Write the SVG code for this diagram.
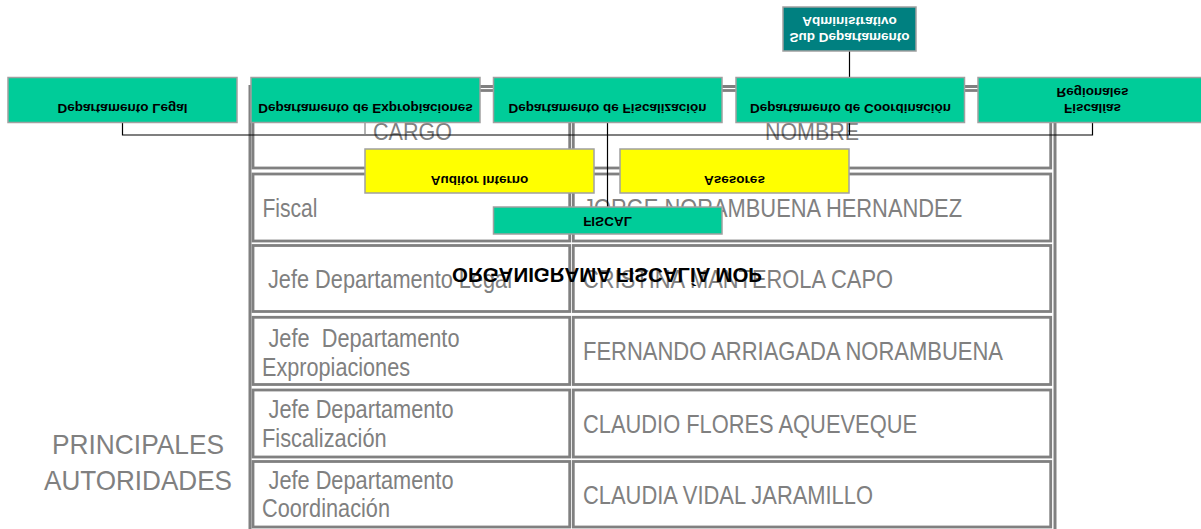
<svg xmlns="http://www.w3.org/2000/svg" width="1201" height="529" viewBox="0 0 1201 529">
<style>
.cell{fill:none;stroke:#808080;stroke-width:2.8}
.outer{fill:none;stroke:#808080;stroke-width:3}
.t{font-family:"Liberation Sans",Arial,sans-serif;font-size:26.5px;fill:#808080;white-space:pre}
.h{font-family:"Liberation Sans",Arial,sans-serif;font-size:24px;fill:#808080}
.side{font-family:"Liberation Sans",Arial,sans-serif;font-size:28px;fill:#808080;text-anchor:middle}
.g{fill:#00CC99;stroke:#A0A0A0;stroke-width:1.5}
.y{fill:#FFFF00;stroke:#A0A0A0;stroke-width:1.5}
.d{fill:#008080;stroke:#A0A0A0;stroke-width:1.5}
.bt{font-family:"Liberation Sans",Arial,sans-serif;font-size:13.5px;font-weight:bold;fill:#000;text-anchor:middle}
.wt{font-family:"Liberation Sans",Arial,sans-serif;font-size:13.5px;font-weight:bold;fill:#fff;text-anchor:middle}
.title{font-family:"Liberation Sans",Arial,sans-serif;font-size:20.5px;font-weight:bold;fill:#000}
.c{fill:none;stroke:#000;stroke-width:1.2}
</style>

<g id="table">
  <rect class="outer" x="250" y="86.5" width="805" height="446"/>
  <rect class="cell" x="253" y="90.5" width="316.7" height="77.5"/>
  <rect class="cell" x="573.3" y="90.5" width="477.4" height="77.5"/>
  <rect class="cell" x="253" y="174" width="316.7" height="67"/>
  <rect class="cell" x="573.3" y="174" width="477.4" height="67"/>
  <rect class="cell" x="253" y="245.5" width="316.7" height="66"/>
  <rect class="cell" x="573.3" y="245.5" width="477.4" height="66"/>
  <rect class="cell" x="253" y="317.3" width="316.7" height="67.2"/>
  <rect class="cell" x="573.3" y="317.3" width="477.4" height="67.2"/>
  <rect class="cell" x="253" y="390" width="316.7" height="67"/>
  <rect class="cell" x="573.3" y="390" width="477.4" height="67"/>
  <rect class="cell" x="253" y="461.5" width="316.7" height="65.5"/>
  <rect class="cell" x="573.3" y="461.5" width="477.4" height="65.5"/>

  <text class="h" x="373" y="140" textLength="79" lengthAdjust="spacingAndGlyphs">CARGO</text>
  <text class="h" x="765" y="140" textLength="94" lengthAdjust="spacingAndGlyphs">NOMBRE</text>

  <text class="t" x="262.5" y="217" textLength="55" lengthAdjust="spacingAndGlyphs">Fiscal</text>
  <text class="t" x="583" y="217" textLength="379" lengthAdjust="spacingAndGlyphs">JORGE NORAMBUENA HERNANDEZ</text>

  <text class="t" x="268" y="287.5" textLength="244" lengthAdjust="spacingAndGlyphs">Jefe Departamento Legal</text>
  <text class="t" x="583" y="287.5" textLength="310" lengthAdjust="spacingAndGlyphs">CRISTINA MANTEROLA CAPO</text>

  <text class="t" x="268.5" y="347" textLength="191" lengthAdjust="spacingAndGlyphs">Jefe  Departamento</text>
  <text class="t" x="262" y="376" textLength="148" lengthAdjust="spacingAndGlyphs">Expropiaciones</text>
  <text class="t" x="583" y="360" textLength="420" lengthAdjust="spacingAndGlyphs">FERNANDO ARRIAGADA NORAMBUENA</text>

  <text class="t" x="268.5" y="418" textLength="185" lengthAdjust="spacingAndGlyphs">Jefe Departamento</text>
  <text class="t" x="262" y="447" textLength="124.6" lengthAdjust="spacingAndGlyphs">Fiscalización</text>
  <text class="t" x="583" y="433" textLength="334" lengthAdjust="spacingAndGlyphs">CLAUDIO FLORES AQUEVEQUE</text>

  <text class="t" x="268.5" y="489" textLength="185" lengthAdjust="spacingAndGlyphs">Jefe Departamento</text>
  <text class="t" x="262" y="517" textLength="128" lengthAdjust="spacingAndGlyphs">Coordinación</text>
  <text class="t" x="583" y="503.5" textLength="290" lengthAdjust="spacingAndGlyphs">CLAUDIA VIDAL JARAMILLO</text>
</g>

<g id="side-label">
  <text class="side" x="138" y="453.5" textLength="172" lengthAdjust="spacingAndGlyphs">PRINCIPALES</text>
  <text class="side" x="138" y="490" textLength="188" lengthAdjust="spacingAndGlyphs">AUTORIDADES</text>
</g>

<g id="connectors">
  <line class="c" x1="849.5" y1="51" x2="849.5" y2="77"/>
  <polyline class="c" points="122.5,122 122.5,135 1092.5,135 1092.5,122"/>
  <line x1="365" y1="122" x2="365" y2="135" stroke="#808080" stroke-width="1.2"/>
  <line class="c" x1="849.5" y1="122" x2="849.5" y2="135"/>
  <line class="c" x1="607.5" y1="122" x2="607.5" y2="207"/>
</g>

<g id="title">
  <text class="title" transform="matrix(1 0 0 -1 0 268)" x="452" y="0" textLength="310" lengthAdjust="spacingAndGlyphs">ORGANIGRAMA FISCALÍA MOP</text>
</g>

<g id="sub-departamento-administrativo">
  <rect class="d" x="783" y="7" width="133" height="44"/>
  <text class="wt" transform="matrix(1 0 0 -1 0 33)" x="849.5" y="0">Sub Departamento</text>
  <text class="wt" transform="matrix(1 0 0 -1 0 17)" x="849.5" y="0">Administrativo</text>
</g>

<g id="departamento-legal">
  <rect class="g" x="8" y="77.5" width="229" height="45"/>
  <text class="bt" transform="matrix(1 0 0 -1 0 103.5)" x="122.5" y="0">Departamento Legal</text>
</g>

<g id="departamento-expropiaciones">
  <rect class="g" x="251" y="77.5" width="229" height="45"/>
  <text class="bt" transform="matrix(1 0 0 -1 0 103.5)" x="365.5" y="0">Departamento de Expropiaciones</text>
</g>

<g id="departamento-fiscalizacion">
  <rect class="g" x="493.5" y="77.5" width="228.5" height="45"/>
  <text class="bt" transform="matrix(1 0 0 -1 0 103.5)" x="607.5" y="0">Departamento de Fiscalización</text>
</g>

<g id="departamento-coordinacion">
  <rect class="g" x="736" y="77.5" width="228.5" height="45"/>
  <text class="bt" transform="matrix(1 0 0 -1 0 103.5)" x="850.5" y="0">Departamento de Coordinación</text>
</g>

<g id="fiscalias-regionales">
  <rect class="g" x="978" y="77.5" width="229" height="45"/>
  <text class="bt" transform="matrix(1 0 0 -1 0 104)" x="1092.5" y="0">Fiscalías</text>
  <text class="bt" transform="matrix(1 0 0 -1 0 87.5)" x="1092.5" y="0">Regionales</text>
</g>

<g id="auditor-interno">
  <rect class="y" x="365" y="149" width="229" height="44"/>
  <text class="bt" transform="matrix(1 0 0 -1 0 176)" x="479.5" y="0">Auditor Interno</text>
</g>

<g id="asesores">
  <rect class="y" x="620" y="149" width="229" height="44"/>
  <text class="bt" transform="matrix(1 0 0 -1 0 176)" x="734.5" y="0">Asesores</text>
</g>

<g id="fiscal">
  <rect class="g" x="493.5" y="207" width="228.5" height="27"/>
  <text class="bt" transform="matrix(1 0 0 -1 0 217)" x="607.5" y="0">FISCAL</text>
</g>
</svg>
